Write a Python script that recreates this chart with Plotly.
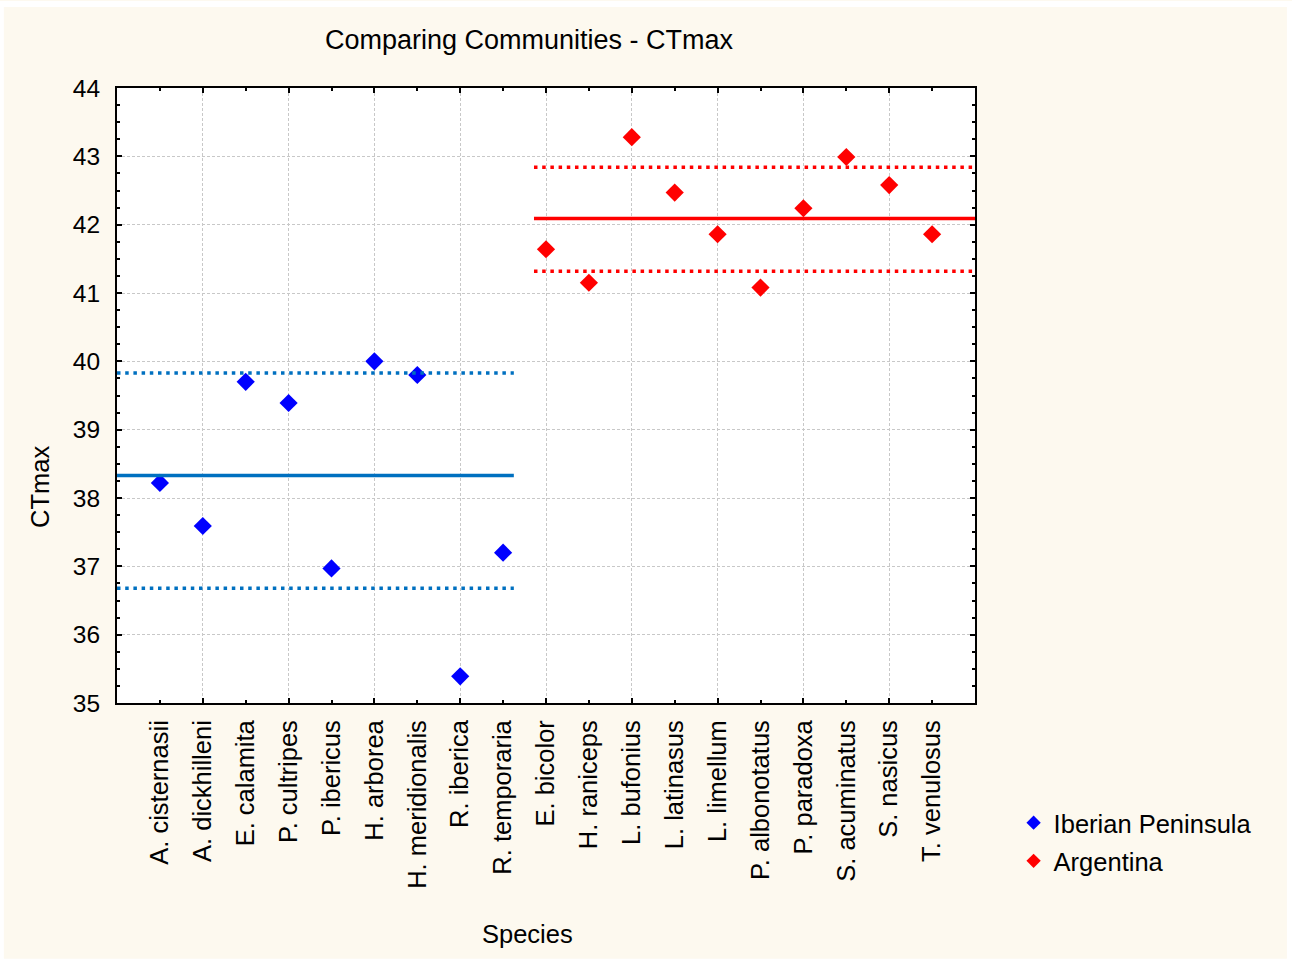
import plotly.graph_objects as go

# Species and their critical thermal maximum (°C)
iberian_species = ["A. cisternasii", "A. dickhilleni", "E. calamita", "P. cultripes",
                   "P. ibericus", "H. arborea", "H. meridionalis", "R. iberica", "R. temporaria"]
iberian_ctmax = [38.22, 37.59, 39.70, 39.39, 36.97, 40.00, 39.80, 35.39, 37.20]

argentina_species = ["E. bicolor", "H. raniceps", "L. bufonius", "L. latinasus", "L. limellum",
                     "P. albonotatus", "P. paradoxa", "S. acuminatus", "S. nasicus", "T. venulosus"]
argentina_ctmax = [41.64, 41.15, 43.28, 42.47, 41.86, 41.08, 42.24, 42.99, 42.58, 41.86]

# Community mean and band (lower, mean, upper)
iberian_band = [36.68, 38.33, 39.83]
argentina_band = [41.32, 42.09, 42.84]

y_ticks = [35, 36, 37, 38, 39, 40, 41, 42, 43, 44]

species = iberian_species + argentina_species
n = len(species)
idx = list(range(n))
iber_idx = idx[:len(iberian_species)]
arg_idx = idx[len(iberian_species):]

# horizontal extent of each community's reference lines (category units)
iber_span = [-1, 8.25]
arg_span = [8.72, n]

BLUE_PT = "#0000FF"
RED_PT = "#FF0000"
BLUE_LN = "#0070C0"
RED_LN = "#FF0000"
FONT = "Liberation Sans, Arial, sans-serif"
GRID = "#c8c8c8"

fig = go.Figure()

fig.add_trace(go.Scatter(x=iber_idx, y=iberian_ctmax, mode="markers",
                         marker=dict(symbol="diamond", size=14, color=BLUE_PT),
                         showlegend=False, hoverinfo="skip"))
fig.add_trace(go.Scatter(x=arg_idx, y=argentina_ctmax, mode="markers",
                         marker=dict(symbol="diamond", size=14, color=RED_PT),
                         showlegend=False, hoverinfo="skip"))

dotted = "3.5px,4.7px"
for band, span, col in [(iberian_band, iber_span, BLUE_LN), (argentina_band, arg_span, RED_LN)]:
    lo, mean, hi = band
    for val, dash in [(lo, dotted), (hi, dotted), (mean, "solid")]:
        fig.add_trace(go.Scatter(x=span, y=[val, val], mode="lines",
                                 line=dict(color=col, width=3.5, dash=dash),
                                 showlegend=False, hoverinfo="skip"))

# legend entries
fig.add_trace(go.Scatter(x=[None], y=[None], mode="markers", name="Iberian Peninsula",
                         legendgroup="a",
                         marker=dict(symbol="diamond", size=11, color=BLUE_PT)))
fig.add_trace(go.Scatter(x=[None], y=[None], mode="markers", name="Argentina",
                         legendgroup="b",
                         marker=dict(symbol="diamond", size=11, color=RED_PT)))

# helper trace for the tick/grid axis
fig.add_trace(go.Scatter(x=[-1, n], y=[35, 35], xaxis="x2", mode="markers",
                         marker=dict(opacity=0), showlegend=False, hoverinfo="skip"))

fig.update_layout(
    width=1292, height=963,
    margin=dict(l=117, r=317, t=88, b=260),
    paper_bgcolor="#FDF9EF",
    plot_bgcolor="white",
    font=dict(family=FONT, size=24, color="black"),
    xaxis=dict(range=[-1, n], tickmode="array", tickvals=idx, ticktext=species,
               tickangle=-90, ticks="", showgrid=False, zeroline=False,
               showline=True, linecolor="black", linewidth=2, mirror=True,
               tickfont=dict(size=25.5), ticklabelstandoff=5),
    xaxis2=dict(range=[-1, n], overlaying="x", side="bottom", anchor="y",
                tickmode="linear", tick0=1, dtick=2, ticks="inside", ticklen=5,
                tickwidth=2, tickcolor="black", showticklabels=False,
                showgrid=True, gridcolor=GRID, gridwidth=1, griddash="3px,2px",
                zeroline=False, showline=False, mirror="ticks",
                minor=dict(tick0=0, dtick=1, ticks="inside", ticklen=3,
                           tickwidth=2, tickcolor="black", showgrid=False)),
    yaxis=dict(range=[35, 44], tickmode="array", tickvals=y_ticks,
               ticks="inside", ticklen=5, tickwidth=2, tickcolor="black",
               showgrid=True, gridcolor=GRID, gridwidth=1, griddash="3px,2px",
               zeroline=False, showline=True, linecolor="black", linewidth=2,
               mirror="ticks", tickfont=dict(size=24.5), ticklabelstandoff=10,
               minor=dict(dtick=0.25, ticks="inside", ticklen=3, tickwidth=2,
                          tickcolor="black", showgrid=False)),
    legend=dict(x=1.045, y=-0.157, xanchor="left", yanchor="top",
                bgcolor="rgba(0,0,0,0)", font=dict(size=25.5), tracegroupgap=2,
                itemsizing="trace"),
    shapes=[dict(type="rect", xref="paper", yref="paper",
                 x0=-117 / 858 + 0.001, x1=1.367, y0=-260 / 615 + 0.002, y1=1 + 84 / 615,
                 line=dict(color="white", width=6), fillcolor="rgba(0,0,0,0)",
                 layer="below")],
    annotations=[
        dict(text="Comparing Communities - CTmax", xref="paper", yref="paper",
             x=(529 - 117) / 858, y=1 + (88 - 40) / 615, xanchor="center", yanchor="middle",
             showarrow=False, font=dict(size=27)),
        dict(text="CTmax", xref="paper", yref="paper",
             x=(40 - 117) / 858, y=(703 - 487) / 615, xanchor="center", yanchor="middle",
             textangle=-90, showarrow=False, font=dict(size=25.5)),
        dict(text="Species", xref="paper", yref="paper",
             x=(527 - 117) / 858, y=(703 - 934) / 615, xanchor="center", yanchor="middle",
             showarrow=False, font=dict(size=25.5)),
    ],
)

fig.write_html("out.html")
